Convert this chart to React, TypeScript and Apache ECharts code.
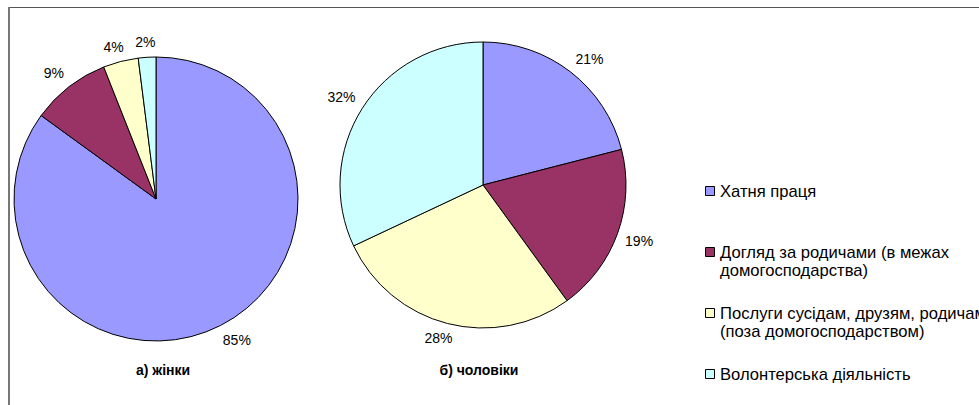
import React, { useEffect, useRef } from "react";
import * as echarts from "echarts";

const CATEGORIES = [
  "Хатня праця",
  "Догляд за родичами (в межах домогосподарства)",
  "Послуги сусідам, друзям, родичам (поза домогосподарством)",
  "Волонтерська діяльність",
];
const LEGEND_LINES = [
  ["Хатня праця"],
  ["Догляд за родичами (в межах", "домогосподарства)"],
  ["Послуги сусідам, друзям, родичам", "(поза домогосподарством)"],
  ["Волонтерська діяльність"],
];
const COLORS = ["#9999FF", "#993366", "#FFFFCC", "#CCFFFF"];
const WOMEN = [85, 9, 4, 2];
const MEN = [21, 19, 28, 32];
const TITLES = ["а) жінки", "б) чоловіки"];

const FONT = "'Liberation Sans', Arial, sans-serif";

export default function App() {
  const ref = useRef<HTMLDivElement>(null);
  useEffect(() => {
    if (!ref.current) return;
    const chart = echarts.init(ref.current, undefined, { renderer: "svg" });
    const legendY = [191, 252, 313, 374];
    const graphic: any[] = [
      { type: "line", shape: { x1: 8, y1: 7.5, x2: 979, y2: 7.5 }, style: { stroke: "#555", lineWidth: 1 } },
      { type: "line", shape: { x1: 9, y1: 7, x2: 9, y2: 405 }, style: { stroke: "#777", lineWidth: 2 } },
      { type: "text", x: 163, y: 370, style: { text: TITLES[0], font: `bold 14px ${FONT}`, fill: "#000", textAlign: "center", textVerticalAlign: "middle" } },
      { type: "text", x: 479, y: 370, style: { text: TITLES[1], font: `bold 14px ${FONT}`, fill: "#000", textAlign: "center", textVerticalAlign: "middle" } },
    ];
    LEGEND_LINES.forEach((lines, i) => {
      const y = legendY[i];
      graphic.push({
        type: "rect",
        shape: { x: 705.5, y: y - 4.5, width: 9, height: 9 },
        style: { fill: COLORS[i], stroke: "#000", lineWidth: 1 },
      });
      lines.forEach((t, j) => {
        graphic.push({
          type: "text",
          x: 720,
          y: y + j * 18.5,
          style: { text: t, font: `16.6px ${FONT}`, fill: "#000", textVerticalAlign: "middle" },
        });
      });
    });

    const makeSeries = (vals: number[], center: number[], radius: number) => ({
      type: "pie",
      center,
      radius,
      startAngle: 90,
      clockwise: true,
      avoidLabelOverlap: false,
      data: vals.map((v, i) => ({ name: CATEGORIES[i], value: v, itemStyle: { color: COLORS[i] } })),
      itemStyle: { borderColor: "#000", borderWidth: 1 },
      label: {
        show: true,
        position: "outside",
        formatter: "{c}%",
        fontFamily: FONT,
        fontSize: 14,
        color: "#000",
        distanceToLabelLine: 0,
      },
      labelLine: { show: false, length: 8, length2: 0 },
      labelLayout: (p: any) => {
        const r = p.labelRect;
        const ax = p.align === "right" ? r.x + r.width : p.align === "left" ? r.x : r.x + r.width / 2;
        const ay = r.y + r.height / 2;
        const vx = ax - center[0];
        const vy = ay - center[1];
        const len = Math.sqrt(vx * vx + vy * vy) || 1;
        const dx = vx / len;
        const dy = vy / len;
        const hw = r.width / 2;
        const hh = 7;
        const ox = Math.sign(dx) * hw * Math.min(1, 2 * Math.abs(dx));
        const oy = Math.sign(dy) * hh * Math.min(1, 2 * Math.abs(dy));
        return { x: ax + ox, y: ay + oy, align: "center", verticalAlign: "middle" };
      },
      emphasis: { disabled: true },
    });

    chart.setOption({
      animation: false,
      backgroundColor: "#fff",
      series: [makeSeries(WOMEN, [156, 199], 142), makeSeries(MEN, [483, 185], 143)],
      graphic,
    });
    return () => chart.dispose();
  }, []);
  return (
    <div
      ref={ref}
      style={{ position: "fixed", left: 0, top: 0, width: 979, height: 405, background: "#fff" }}
    />
  );
}
